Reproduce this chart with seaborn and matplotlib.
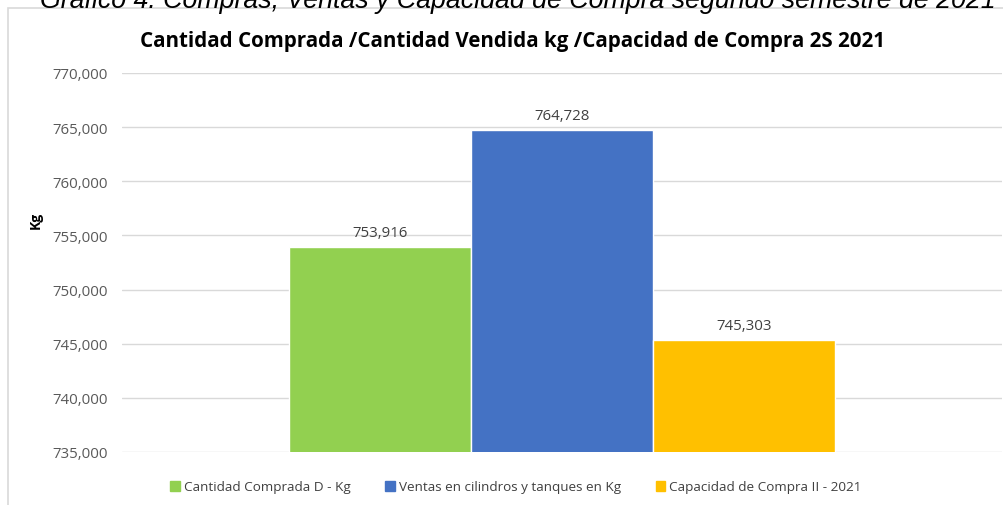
import matplotlib
matplotlib.use("Agg")
import matplotlib.pyplot as plt
import matplotlib.patches as mpatches
from matplotlib.ticker import FuncFormatter
import seaborn as sns
import pandas as pd

series = ["Cantidad Comprada D - Kg", "Ventas en cilindros y tanques en Kg", "Capacidad de Compra II - 2021"]
values = [753916, 764728, 745303]
category = ["2S 2021"]
colors = ["#92D050", "#4472C4", "#FFC000"]
yticks = [735000, 740000, 745000, 750000, 755000, 760000, 765000, 770000]

df = pd.DataFrame({"cat": category * len(series), "serie": series, "val": values})

sns.set_theme(style="white")
plt.rcParams['font.family'] = ['Open Sans', 'DejaVu Sans']

fig = plt.figure(figsize=(10.04, 5.06), dpi=100)
ax = fig.add_axes([122/1004, 1-453/506, (1002-122)/1004, (453-74)/506])

sns.barplot(data=df, x="cat", y="val", hue="serie", palette=colors, saturation=1,
            width=0.62, ax=ax, legend=False, gap=0)

ax.set_ylim(735000, 770000)
ax.set_yticks(yticks)
ax.yaxis.set_major_formatter(FuncFormatter(lambda v, p: f"{int(v):,}"))
ax.tick_params(axis="y", length=0, labelsize=10.8, labelcolor="#595959", pad=10)
ax.set_xticks([])
ax.set_xlabel("")
ax.set_ylabel("Kg", fontsize=10, fontweight="bold", color="#000000")
ax.yaxis.set_label_coords((43-122)/880, (453-220)/379)
ax.grid(axis="y", color="#D9D9D9", linewidth=1)
ax.set_axisbelow(True)
for s in ax.spines.values():
    s.set_visible(False)

for cont in ax.containers:
    ax.bar_label(cont, labels=[f"{int(v):,}" for v in cont.datavalues], padding=5,
                 fontsize=10.8, color="#404040")

handles = [mpatches.Patch(color=c, label=s) for c, s in zip(colors, series)]
fig.legend(handles=handles, loc="center", bbox_to_anchor=(516/1004, 1-488/506), ncol=3,
           frameon=False, fontsize=9.7, handlelength=0.7, handleheight=0.7,
           handletextpad=0.3, columnspacing=2.6, labelcolor="#404040")

fig.text(513/1004, 1-42/506, "Cantidad Comprada /Cantidad Vendida kg /Capacidad de Compra 2S 2021",
         ha="center", va="center", fontsize=14.8, fontweight="bold", color="#000000")

fig.text(40/1004, 1-8/506, "Gráfico 4. Compras, Ventas y Capacidad de Compra segundo semestre de 2021",
         ha="left", va="baseline", fontsize=19.3, style="italic", family=["Liberation Sans"], color="#000000")

frame = mpatches.Rectangle((8/1004, -0.05), 1.1, 1-9/506+0.05, transform=fig.transFigure,
                           fill=False, edgecolor="#D9D9D9", linewidth=1.2)
fig.patches.append(frame)

fig.savefig("out.png", dpi=100, facecolor="white")
